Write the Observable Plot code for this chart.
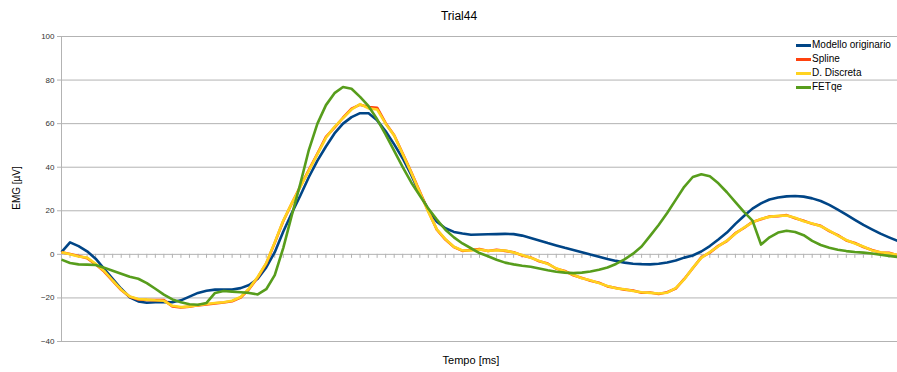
<!DOCTYPE html>
<html><head><meta charset="utf-8">
<script src="https://cdn.jsdelivr.net/npm/d3@7"></script>
<script src="https://cdn.jsdelivr.net/npm/@observablehq/plot@0.6"></script>
<style>
body{margin:0;background:#fff;font-family:"Liberation Sans",Arial,sans-serif;color:#000;}
#wrap{position:relative;width:897px;height:372px;overflow:hidden;}
#wrap svg{position:absolute;left:0;top:0;}
.lbl{position:absolute;white-space:nowrap;}
#title{left:459px;top:9px;transform:translateX(-50%);font-size:12px;}
#xlab{left:471px;top:354px;transform:translateX(-50%);font-size:11px;line-height:13px;}
#ylab{left:16px;top:188px;transform:translate(-50%,-50%) rotate(-90deg);font-size:10px;}
#legend{position:absolute;left:796px;top:38px;font-size:10px;}
.li{height:14px;line-height:14px;display:flex;align-items:center;}
.sw{width:15px;height:3px;margin-right:1px;}
</style>
</head><body>
<div id="wrap">
  <div id="title" class="lbl">Trial44</div>
  <div id="xlab" class="lbl">Tempo [ms]</div>
  <div id="ylab" class="lbl">EMG [µV]</div>
  <div id="legend"></div>
</div>
<script>
const seriesNames = ["Modello originario", "Spline", "D. Discreta", "FETqe"];
const seriesColors = ["#004586", "#ff420e", "#ffd320", "#579d1c"];
const yTicks = [-40, -20, 0, 20, 40, 60, 80, 100];

const modello = [1,5.5,3.8,1.4,-2,-6.6,-11.2,-15.8,-19.7,-21.6,-22.2,-22,-21.9,-22,-21.1,-19.4,-17.7,-16.7,-16.2,-16.1,
 -16.1,-15.5,-14.1,-11.2,-6,1,10.5,19,27,35.5,43,49.5,55.5,60,63,64.8,64.8,61.5,56.5,50.5,
 44,36.5,28,20.5,15,12,10.3,9.6,9,9.1,9.2,9.3,9.4,9.3,8.6,7.5,6.4,5.2,4.1,3,
 2,1,-0.1,-1.1,-2.1,-3,-3.8,-4.3,-4.5,-4.6,-4.3,-3.7,-2.8,-1.5,-0.5,1.3,3.8,6.8,10,14,
 17.6,21,23.4,25.2,26.1,26.6,26.8,26.5,25.7,24.5,22.7,20.5,18.2,15.8,13.5,11.5,9.5,7.8,6.2];

const discreta = [1,0,-1,-1.5,-4.3,-7.6,-12,-16.2,-19.3,-20.5,-20.8,-21.1,-21.3,-23.6,-24.2,-23.9,-23.3,-22.8,-22.3,-22,
 -21.3,-19.6,-15.6,-10.4,-4,5.5,15.5,23.5,31,38.5,46,53.5,58.5,62.5,66.5,69,67,66.5,60,54.5,
 46,37.5,28.5,19.5,11.5,7,3.5,1.8,1.8,2.2,1.6,1.9,1.8,0.8,-0.3,-1.6,-3,-4.4,-6.4,-7.8,
 -9.4,-11,-11.9,-13.2,-14.5,-15.6,-16,-16.8,-17.4,-17.7,-18,-17.6,-15.5,-11.5,-6.2,-1.6,1,3.7,6.3,9.5,
 12.3,14.7,16.3,17.2,17.7,17.8,16.8,15.2,14.2,12.9,10.9,8.6,6.6,5,3.6,1.8,1,0.5,-0.2];

const spline = [1,0.2,-0.8,-1.8,-4.6,-7.9,-12.2,-16.4,-19.5,-20.7,-20.9,-21,-21,-23.9,-24.4,-24,-23.4,-23,-22.5,-22.1,
 -21.5,-19.8,-15.9,-10.6,-4.2,5.3,15.3,23.4,31.2,38.8,46.3,53.9,58.2,62.7,66.9,68.7,67.6,67.3,60.2,54.7,
 46.3,37.8,28.8,19.8,11.3,6.8,3.4,1.6,2,2.4,1.5,2.1,1.6,1,-0.5,-1.4,-3.2,-4.2,-6.6,-7.6,
 -9.6,-10.8,-12.1,-13,-14.7,-15.4,-16.2,-16.6,-17.6,-17.5,-18.2,-17.4,-15.7,-11.3,-6.4,-1.4,0.8,3.9,6.1,9.7,
 12.1,14.9,16.1,17.4,17.5,18,16.6,15.4,14,13.1,10.7,8.8,6.4,5.2,3.4,2,0.8,0.7,-0.4];

const fetqe = [-2.4,-4,-4.6,-4.7,-4.9,-6.1,-7.5,-8.9,-10.3,-11.2,-13.2,-15.8,-18.5,-20.7,-22,-22.9,-23.1,-22.3,-17.7,-16.8,
 -17.1,-17.4,-17.7,-18.4,-16,-9.5,3,18,32.5,48,60,68.5,74,76.8,76,72.3,68,62,55,47.5,
 40,33,27,21,16,11.3,7.8,5,2.8,0.6,-0.9,-2.5,-3.8,-4.6,-5.2,-5.7,-6.5,-7.3,-8,-8.4,
 -8.6,-8.4,-7.9,-7.1,-6,-4.4,-2.3,0.3,3.6,8.5,13.5,19,25,31,35.5,36.8,35.8,32.6,28.5,24,
 19.5,15.5,4.5,7.8,10,10.8,10.3,8.8,6.2,4.3,3,2.1,1.5,1.1,0.8,0.4,-0.2,-0.7,-1.2];

const allSeries = [modello, spline, discreta, fetqe];
const idx = d3.range(modello.length);

const plot = Plot.plot({
  width: 897, height: 372,
  marginLeft: 61, marginRight: 0, marginTop: 36, marginBottom: 31,
  x: {domain: [0, idx.length - 1], axis: null},
  y: {domain: [-40, 100]},
  style: {fontFamily: "'Liberation Sans', Arial, sans-serif", fontSize: "8px", color: "#333", background: "transparent", overflow: "visible"},
  marks: [
    Plot.ruleY(yTicks, {stroke: "#b3b3b3", strokeWidth: 1}),
    Plot.ruleX([0], {y1: -40, y2: 100, stroke: "#b3b3b3"}),
    Plot.ruleX(idx, {x: d => d, y1: 0, y2: 0, insetBottom: -4, stroke: "#b3b3b3"}),
    Plot.axisY(yTicks, {tickSize: 4, tickPadding: 3, stroke: "#b3b3b3", fill: "#333", label: null, strokeOpacity: 1}),
    ...allSeries.map((s, k) => Plot.line(idx, {
      x: d => d, y: d => s[d],
      stroke: seriesColors[k], strokeWidth: 2.6, strokeLinejoin: "round", strokeLinecap: "butt"
    }))
  ]
});
const wrap = document.getElementById("wrap");
wrap.insertBefore(plot, wrap.firstChild);

const leg = document.getElementById("legend");
seriesNames.forEach((n, k) => {
  const row = document.createElement("div");
  row.className = "li";
  const sw = document.createElement("span");
  sw.className = "sw";
  sw.style.background = seriesColors[k];
  const t = document.createElement("span");
  t.textContent = n;
  row.appendChild(sw); row.appendChild(t);
  leg.appendChild(row);
});
</script>
</body></html>
